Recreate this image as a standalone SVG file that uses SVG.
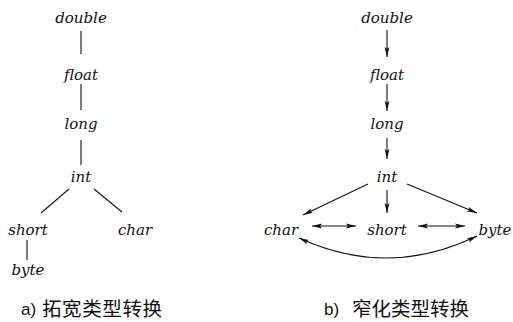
<svg xmlns="http://www.w3.org/2000/svg" width="513" height="322" viewBox="0 0 513 322">
<style>
.t{font-family:"DejaVu Serif","Liberation Serif",serif;font-style:italic;font-size:15px;fill:#111;text-anchor:middle}
.c{font-family:"Noto Sans CJK SC",sans-serif;font-size:19.5px;fill:#111}
.l{font-family:"Liberation Sans","Noto Sans",sans-serif;font-size:17px;fill:#111}
.e{stroke:#111;stroke-width:1.1;fill:none}
.a{marker-end:url(#ah)}
.d{marker-start:url(#ah);marker-end:url(#ah)}
</style>
<defs>
<marker id="ah" viewBox="0 0 10 6" refX="10" refY="3" markerWidth="10" markerHeight="6" markerUnits="userSpaceOnUse" orient="auto-start-reverse">
<path d="M0,0.6 L10,3 L0,5.4 L2,3 Z" fill="#111"/>
</marker>
</defs>
<g id="connectors">
<line class="e" x1="81" y1="31" x2="81" y2="54"/>
<line class="e" x1="81" y1="84" x2="81" y2="110"/>
<line class="e" x1="81" y1="140" x2="81" y2="165"/>
<line class="e" x1="69" y1="189" x2="41" y2="213"/>
<line class="e" x1="94" y1="189" x2="122" y2="212"/>
<line class="e" x1="27" y1="240" x2="27" y2="260"/>
<line class="e a" x1="387" y1="30" x2="387" y2="57"/>
<line class="e a" x1="387" y1="84" x2="387" y2="111"/>
<line class="e a" x1="387" y1="138" x2="387" y2="159"/>
<line class="e a" x1="387" y1="190" x2="387" y2="213"/>
<line class="e a" x1="368" y1="184" x2="303" y2="215"/>
<line class="e a" x1="407" y1="184" x2="477" y2="213"/>
<line class="e d" x1="312" y1="226" x2="356" y2="226"/>
<line class="e d" x1="418" y1="226" x2="465" y2="226"/>
<path class="e d" d="M299,238 Q388,279 477,236"/>
</g>
<g id="a-double"><text class="t" x="81" y="23">double</text></g>
<g id="a-float"><text class="t" x="81" y="80">float</text></g>
<g id="a-long"><text class="t" x="81" y="129">long</text></g>
<g id="a-int"><text class="t" x="81" y="182">int</text></g>
<g id="a-short"><text class="t" x="28" y="235">short</text></g>
<g id="a-char"><text class="t" x="135" y="235">char</text></g>
<g id="a-byte"><text class="t" x="28" y="275">byte</text></g>
<g id="b-double"><text class="t" x="387" y="23">double</text></g>
<g id="b-float"><text class="t" x="387" y="80">float</text></g>
<g id="b-long"><text class="t" x="387" y="129">long</text></g>
<g id="b-int"><text class="t" x="387" y="182">int</text></g>
<g id="b-char"><text class="t" x="281" y="235">char</text></g>
<g id="b-short"><text class="t" x="387" y="235">short</text></g>
<g id="b-byte"><text class="t" x="495" y="235">byte</text></g>
<g id="caption-a"><text class="l" x="21" y="315">a)</text><text class="c" x="42" y="316" letter-spacing="0.6">拓宽类型转换</text></g>
<g id="caption-b"><text class="l" x="324" y="315">b)</text><text class="c" x="352" y="316">窄化类型转换</text></g>
</svg>
